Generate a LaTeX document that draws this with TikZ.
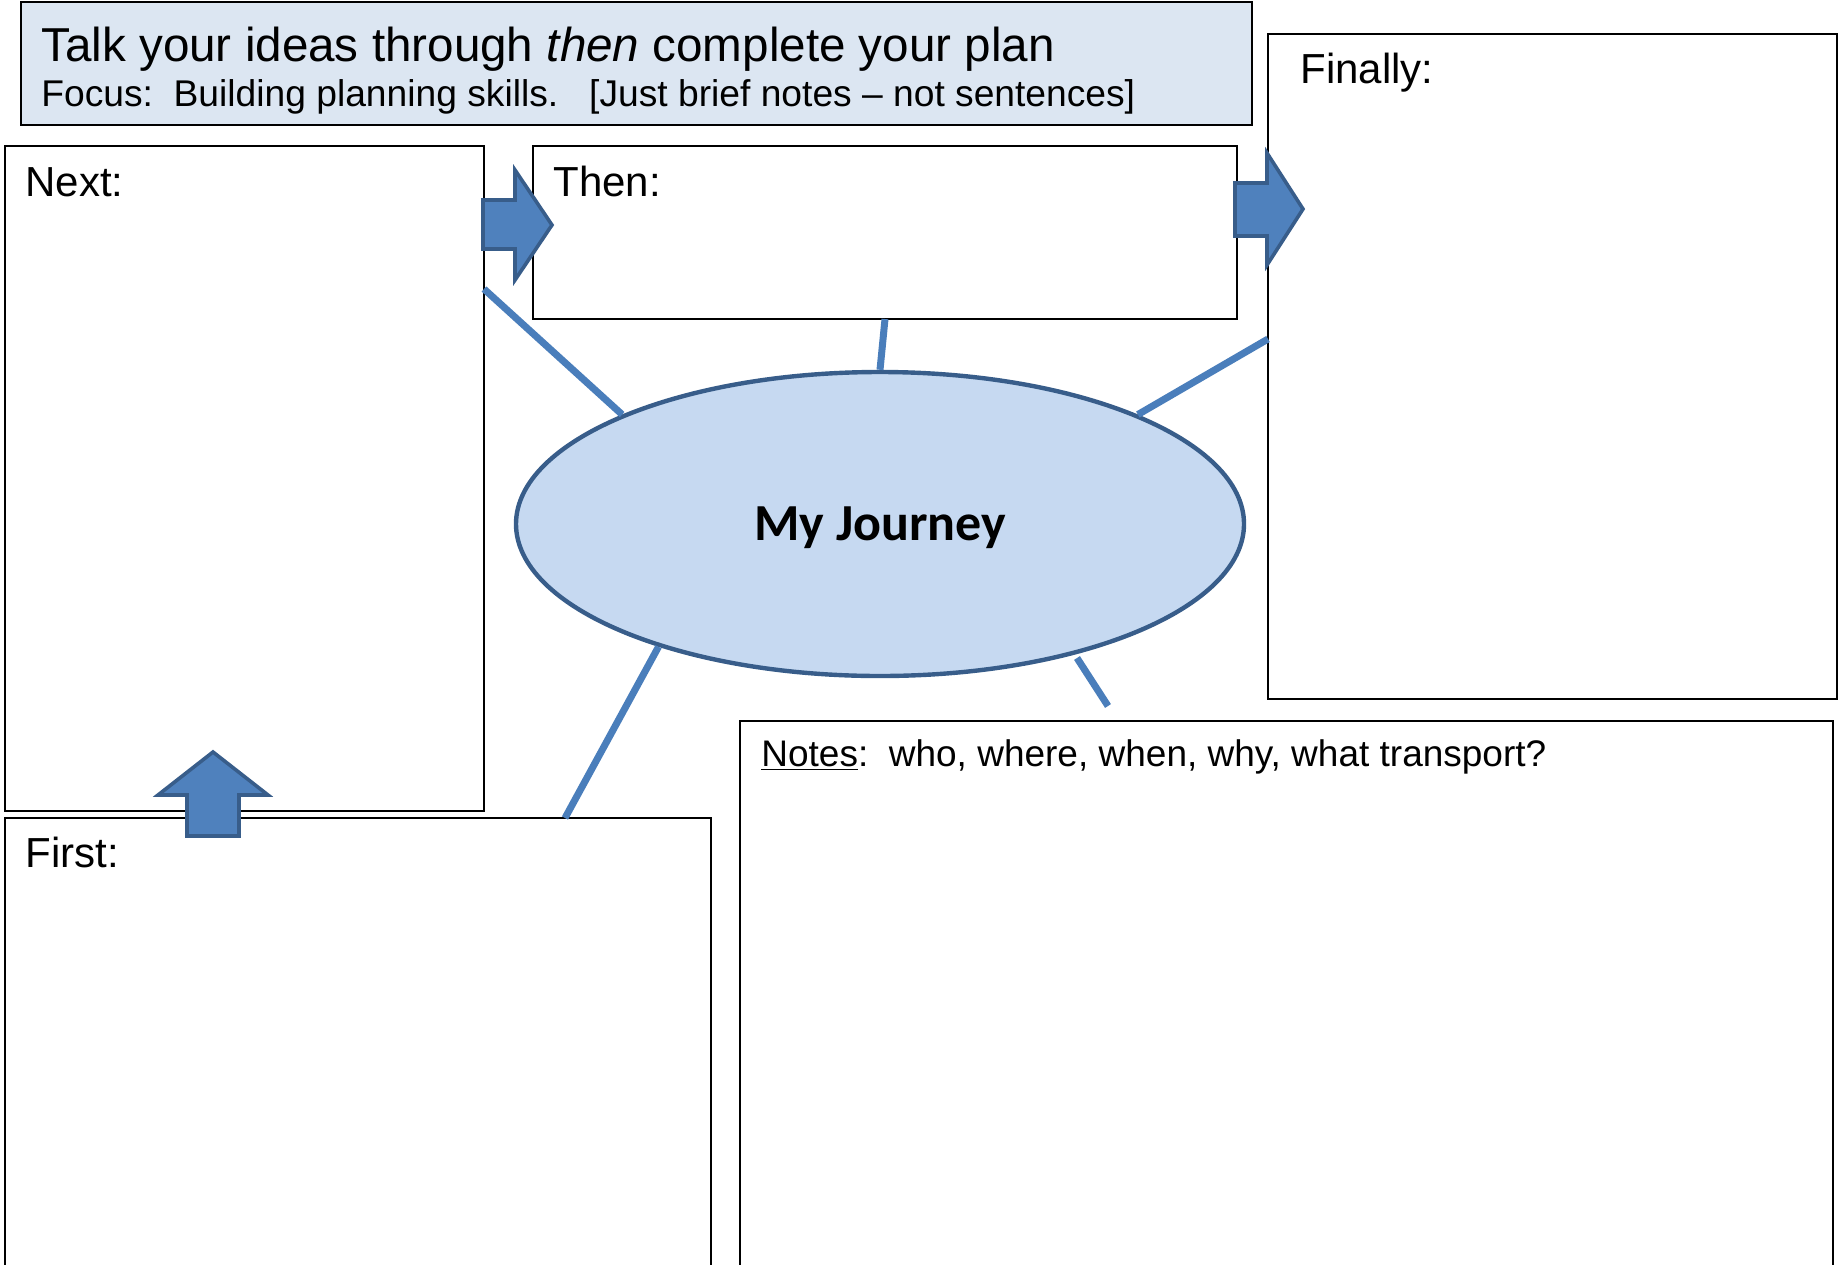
\documentclass[tikz,border=0pt]{standalone}
\usepackage{fontspec}
\setmainfont{Liberation Sans}
\newfontfamily\journeyfont{Carlito}
\usepackage{xcolor}
\usetikzlibrary{shapes.geometric, positioning}
\definecolor{headfill}{HTML}{DCE6F2}
\definecolor{ovalfill}{HTML}{C6D9F1}
\definecolor{darkblue}{HTML}{385D8A}
\definecolor{midblue}{HTML}{4F81BD}
\definecolor{linkblue}{HTML}{4A7EBB}
\tikzset{
  box/.style={rectangle, draw, line width=1pt, inner sep=0pt, outer sep=0pt, anchor=north west},
  boxlabel/.style={anchor=base west, inner sep=0pt, font=\fontsize{21pt}{25pt}\selectfont},
  link/.style={draw=linkblue, line width=3.5pt},
  blockarrow/.style={fill=midblue, draw=darkblue, line width=1.8pt, line join=miter},
}

\begin{document}
\begin{tikzpicture}[x=0.5pt, y=-0.5pt]
    \useasboundingbox (0,0) rectangle (1845,1264);
    % header
    \node[box, fill=headfill, minimum width=615.5pt, minimum height=61.5pt] (header) at (21,2) {};
    \node[anchor=base west, inner sep=0pt, font=\fontsize{23.8pt}{28pt}\selectfont] (title) at (41,61) {Talk your ideas through \textit{then} complete your plan};
    \node[anchor=base west, inner sep=0pt, font=\fontsize{18.6pt}{22pt}\selectfont] (focus) at (41,106) {Focus:\ \ Building planning skills.\ \ \ [Just brief notes – not sentences]};
    % boxes
    \node[box, minimum width=239.5pt, minimum height=332.5pt] (next) at (5,146) {};
    \node[box, minimum width=352pt, minimum height=86.5pt] (then) at (533,146) {};
    \node[box, minimum width=284.5pt, minimum height=332.5pt] (finally) at (1268,34) {};
    \node[box, minimum width=353pt, minimum height=230pt] (first) at (5,818) {};
    \node[box, minimum width=546.5pt, minimum height=280pt] (notes) at (740,721) {};
    \node[boxlabel] (nextlbl) at ([shift={(20,50)}]next.north west) {Next:};
    \node[boxlabel] (thenlbl) at ([shift={(20,50)}]then.north west) {Then:};
    \node[boxlabel] (finallylbl) at ([shift={(32,49)}]finally.north west) {Finally:};
    \node[boxlabel] (firstlbl) at ([shift={(20,49)}]first.north west) {First:};
    \node[boxlabel, font=\fontsize{18.5pt}{22pt}\selectfont] (noteslbl) at ([shift={(21,45)}]notes.north west) {\underline{Notes}:\ \ who, where, when, why, what transport?};
    % centre
    \node[ellipse, draw=darkblue, fill=ovalfill, line width=2.2pt, minimum width=364pt, minimum height=152pt, inner sep=0pt, text depth=0pt, font=\journeyfont\bfseries\fontsize{26pt}{30pt}\selectfont] (journey) at (880,524) {My Journey};
    \draw[link] ([shift={(0,143)}]next.north east) -- (journey.157);
    \draw[link] (then.south) -- (journey.north);
    \draw[link] ([shift={(0,305)}]finally.north west) -- (journey.23);
    \draw[link] ([shift={(-146,0)}]first.north east) -- (journey.209);
    \coordinate (stubtop) at (1077,658);
    \coordinate (stubend) at (1108,706);
    \draw[link] (stubtop) -- (stubend);
    % block arrows
    \draw[blockarrow] (483,200) -- (515,200) -- (515,170) -- (552,225) -- (515,280) -- (515,249) -- (483,249) -- cycle;
    \draw[blockarrow] (1235,183) -- (1267,183) -- (1267,153) -- (1303,209) -- (1267,265) -- (1267,236) -- (1235,236) -- cycle;
    \draw[blockarrow] (187,836) -- (187,795) -- (158,795) -- (213,752) -- (268,795) -- (239,795) -- (239,836) -- cycle;
\end{tikzpicture}
\end{document}
